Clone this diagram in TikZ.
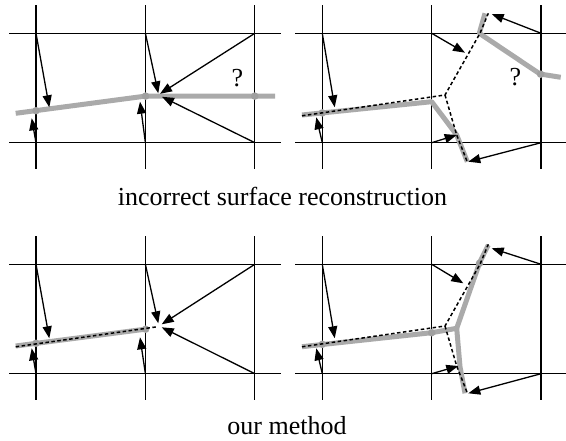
\documentclass[tikz,border=0pt]{standalone}
\usepackage{fontspec}
\setmainfont{Liberation Serif}
\usetikzlibrary{arrows.meta}
\definecolor{surf}{RGB}{170,170,170}
\definecolor{surfdot}{RGB}{160,160,160}
\tikzset{
  gridline/.style={line width=1.3pt,black},
  vec/.style={line width=1.3pt,black,-{Triangle[length=12pt,width=9pt]}},
  surface/.style={line width=5pt,surf,line join=round},
  truesurf/.style={line width=1.5pt,black,dash pattern=on 3.5pt off 2.5pt},
  vtx/.style={circle,fill=surfdot,inner sep=0pt,minimum size=7.5pt},
  caption/.style={font=\fontsize{26}{30}\selectfont,anchor=base,inner sep=0pt},
  qmark/.style={font=\fontsize{26}{30}\selectfont,inner sep=0pt}
}
\newcommand{\gridpanel}[1]{%
  \coordinate (#1-a0) at (0,0); \coordinate (#1-a1) at (109.4,0); \coordinate (#1-a2) at (218.8,0);
  \coordinate (#1-b0) at (0,109.4); \coordinate (#1-b1) at (109.4,109.4); \coordinate (#1-b2) at (218.8,109.4);
  \draw[gridline] (-27,0) -- (245,0) (-27,109.4) -- (245,109.4);
  \foreach \u in {0,109.4,218.8} {\draw[gridline] (\u,-28) -- (\u,136);}
}
\begin{document}
\begin{tikzpicture}[x=1pt,y=-1pt]
\useasboundingbox (0,0) rectangle (566,441);

% ---------- panel 1 ----------
\begin{scope}[shift={(36,33.3)}]
  \gridpanel{p1}
  \coordinate (p1-t1) at (13.3,74);
  \coordinate (p1-t2) at (-4.3,85);
  \coordinate (p1-t3) at (122.3,60);
  \coordinate (p1-t4) at (104,68.4);
  \coordinate (p1-t5) at (124,60.5);
  \coordinate (p1-t6) at (126,63.5);
  \draw[surface] (-20.3,80) -- (109.6,62.8) -- (239,62.8);
  \node[vtx] (p1-v0) at (0,77.4) {};
  \node[vtx] (p1-v1) at (109.6,62.8) {};
  \node[vtx] (p1-v2) at (218.8,62.8) {};
  \draw[vec] (p1-a0) -- (p1-t1);
  \draw[vec] (p1-b0) -- (p1-t2);
  \draw[vec] (p1-a1) -- (p1-t3);
  \draw[vec] (p1-b1) -- (p1-t4);
  \draw[vec] (p1-a2) -- (p1-t5);
  \draw[vec] (p1-b2) -- (p1-t6);
  \node[qmark] (p1-q) at (201.5,45) {?};
\end{scope}

% ---------- panel 2 ----------
\begin{scope}[shift={(322.3,33.3)}]
  \gridpanel{p2}
  \coordinate (p2-t1) at (12.4,74);
  \coordinate (p2-t2) at (-6,84);
  \coordinate (p2-t3) at (142.7,19.4);
  \coordinate (p2-t4) at (169.4,-19.3);
  \coordinate (p2-t5) at (134.4,101.7);
  \coordinate (p2-t6) at (146,128.4);
  \coordinate (p2-j) at (122.7,61.7);
  \draw[surface] (-20.3,81.7) -- (109.4,68.4) -- (134.4,101.7) -- (145,128.4);
  \draw[surface] (162.7,-20) -- (157,0) -- (217.7,40.7) -- (238.4,44);
  \node[vtx] (p2-v0) at (0,79.6) {};
  \node[vtx] (p2-v1) at (218.3,40.9) {};
  \draw[truesurf] (-20.3,82.5) -- (p2-j) -- (157.7,0) -- (166,-20);
  \draw[truesurf] (p2-j) -- (134.4,101.7) -- (145,128.7);
  \draw[vec] (p2-a0) -- (p2-t1);
  \draw[vec] (p2-b0) -- (p2-t2);
  \draw[vec] (p2-a1) -- (p2-t3);
  \draw[vec] (p2-a2) -- (p2-t4);
  \draw[vec] (p2-b1) -- (p2-t5);
  \draw[vec] (p2-b2) -- (p2-t6);
  \node[qmark] (p2-q) at (193,43.4) {?};
\end{scope}

% ---------- panel 3 ----------
\begin{scope}[shift={(36,264.3)}]
  \gridpanel{p3}
  \coordinate (p3-t1) at (13.3,74);
  \coordinate (p3-t2) at (-4.3,84);
  \coordinate (p3-t3) at (122.3,59);
  \coordinate (p3-t4) at (104,73);
  \coordinate (p3-t5) at (125.7,60);
  \coordinate (p3-t6) at (125.7,63);
  \draw[surface] (-20.3,81.7) -- (110.7,64.7);
  \node[vtx] (p3-v0) at (0,79) {};
  \node[vtx] (p3-v1) at (109.6,64.9) {};
  \draw[truesurf] (-20.3,82.5) -- (121,62.5);
  \draw[vec] (p3-a0) -- (p3-t1);
  \draw[vec] (p3-b0) -- (p3-t2);
  \draw[vec] (p3-a1) -- (p3-t3);
  \draw[vec] (p3-b1) -- (p3-t4);
  \draw[vec] (p3-a2) -- (p3-t5);
  \draw[vec] (p3-b2) -- (p3-t6);
\end{scope}

% ---------- panel 4 ----------
\begin{scope}[shift={(322.3,264.3)}]
  \gridpanel{p4}
  \coordinate (p4-t1) at (12.4,74);
  \coordinate (p4-t2) at (-6,84);
  \coordinate (p4-t3) at (141,19);
  \coordinate (p4-t4) at (169.4,-16);
  \coordinate (p4-t5) at (136,101.7);
  \coordinate (p4-t6) at (146,129);
  \coordinate (p4-j) at (122.7,61.7);
  \coordinate (p4-c) at (134.4,64);
  \draw[surface] (-20.3,82.4) -- (109.4,68.4) -- (p4-c) -- (157.7,-2.6) -- (166,-19.3);
  \draw[surface] (p4-c) -- (137.7,102.4) -- (142.7,129);
  \node[vtx] (p4-v0) at (0,80) {};
  \node[vtx] (p4-v1) at (109.4,68.4) {};
  \node[vtx] (p4-v2) at (157.2,-1) {};
  \draw[truesurf] (-20.3,82.5) -- (p4-j) -- (157.7,0) -- (166,-20);
  \draw[truesurf] (p4-j) -- (134.4,101.7) -- (145,128.7);
  \draw[vec] (p4-a0) -- (p4-t1);
  \draw[vec] (p4-b0) -- (p4-t2);
  \draw[vec] (p4-a1) -- (p4-t3);
  \draw[vec] (p4-a2) -- (p4-t4);
  \draw[vec] (p4-b1) -- (p4-t5);
  \draw[vec] (p4-b2) -- (p4-t6);
\end{scope}

% ---------- captions ----------
\node[caption] (cap1) at (282.5,205.7) {incorrect surface reconstruction};
\node[caption] (cap2) at (287,435) {our method};
\end{tikzpicture}
\end{document}
